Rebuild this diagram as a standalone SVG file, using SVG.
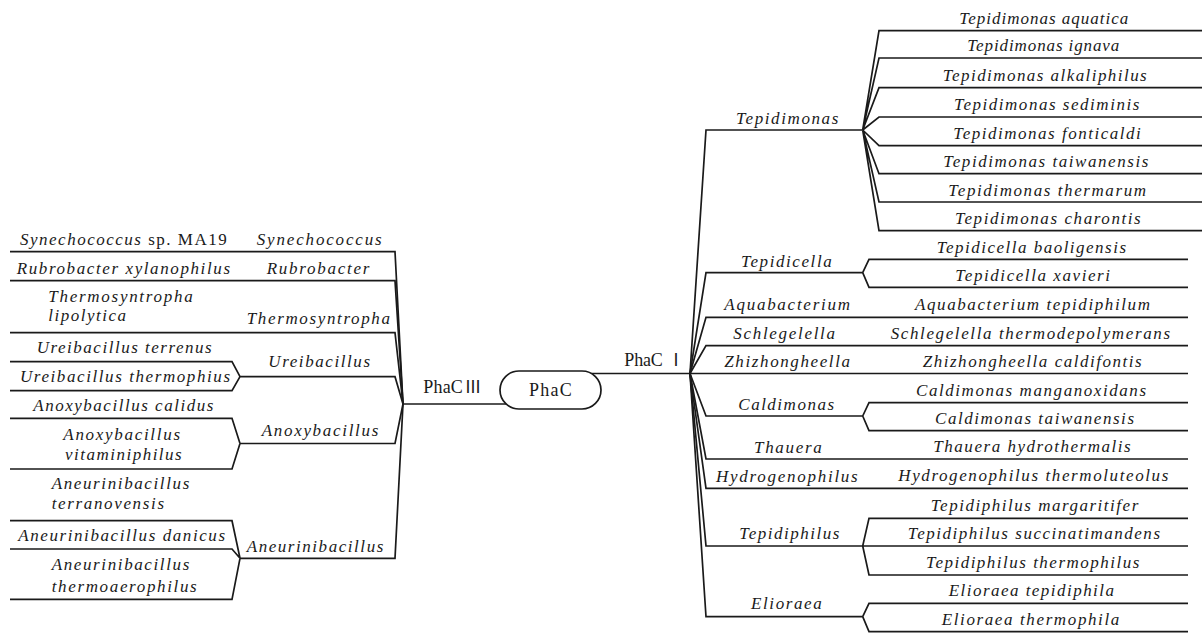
<svg xmlns="http://www.w3.org/2000/svg" width="1202" height="635" viewBox="0 0 1202 635">
<style>
.ln{fill:none;stroke:#1a1a1a;stroke-width:1.7;stroke-linejoin:miter;}
.t{font-family:"Liberation Serif","Times New Roman",serif;font-size:17px;font-style:italic;fill:#1a1a1a;}
.u{font-style:normal;}
.n{font-family:"Liberation Serif","Times New Roman",serif;font-size:18px;fill:#1a1a1a;}
.r{font-family:"Noto Sans CJK SC","Noto Sans CJK JP",sans-serif;font-size:17px;}
</style>
<rect width="1202" height="635" fill="#fff"/>
<g id="connectors" class="ln">
<path d="M403,404 H510"/>
<path d="M590,373.5 H690"/>
<path d="M10,251.7 H395 L403,404"/>
<path d="M10,280.7 H395 L403,404"/>
<path d="M10,332.7 H395 L403,404"/>
<path d="M10,361.7 H232 L240,376.7 M10,390.7 H232 L240,376.7 M240,376.7 H395 L403,404"/>
<path d="M10,418.3 H232 L240,443.5 M10,469 H232 L240,443.5 M240,443.5 H395 L403,404"/>
<path d="M10,520.7 H232 L240,558.3 M10,549 H232 L240,558.3 M10,599.3 H232 L240,558.3 M240,558.3 H395 L403,404"/>
<path d="M690,373.5 L706,130 H862.7"/>
<path d="M862.7,130 L879,30.7 H1202 M862.7,130 L879,58 H1202 M862.7,130 L879,87.7 H1202 M862.7,130 L879,117 H1202 M862.7,130 L879,145.7 H1202 M862.7,130 L879,173.7 H1202 M862.7,130 L879,202 H1202 M862.7,130 L879,230.7 H1202"/>
<path d="M690,373.5 L706,272.7 H862.7 L869,259.3 H1188 M862.7,272.7 L869,287.3 H1188"/>
<path d="M690,373.5 L706,317.3 H1188"/>
<path d="M690,373.5 L706,345.7 H1188"/>
<path d="M690,373.5 H1188"/>
<path d="M690,373.5 L706,416 H862.7 L869,402.7 H1188 M862.7,416 L869,430.7 H1188"/>
<path d="M690,373.5 L706,459 H1188"/>
<path d="M690,373.5 L706,488.3 H1188"/>
<path d="M690,373.5 L706,546 H1188 M862.7,546 L869,518.3 H1188 M862.7,546 L869,575 H1188"/>
<path d="M690,373.5 L706,616.7 H862.7 L869,603.3 H1188 M862.7,616.7 L869,631.7 H1188"/>
</g>
<g id="root">
<rect x="500" y="371" width="101" height="38" rx="19" ry="19" fill="#fff" stroke="#1a1a1a" stroke-width="1.7"/>
<text class="n" x="529" y="396" textLength="42.7" lengthAdjust="spacing">PhaC</text>
</g>
<g id="phac3"><text class="n" x="423.3" y="393"><tspan textLength="39.5" lengthAdjust="spacing">PhaC</tspan><tspan class="r" x="464.5">Ⅲ</tspan></text></g>
<g id="phac1"><text class="n" x="624.3" y="366"><tspan textLength="38.5" lengthAdjust="spacing">PhaC</tspan><tspan class="r" x="667.5">Ⅰ</tspan></text></g>
<g id="g-synechococcus"><text class="t" x="256.7" y="245" textLength="125" lengthAdjust="spacing">Synechococcus</text></g>
<g id="g-rubrobacter"><text class="t" x="266.7" y="274" textLength="102.6" lengthAdjust="spacing">Rubrobacter</text></g>
<g id="g-thermosyntropha"><text class="t" x="246.7" y="324" textLength="143.3" lengthAdjust="spacing">Thermosyntropha</text></g>
<g id="g-ureibacillus"><text class="t" x="268.3" y="367" textLength="101.7" lengthAdjust="spacing">Ureibacillus</text></g>
<g id="g-anoxybacillus"><text class="t" x="261.7" y="436" textLength="116.6" lengthAdjust="spacing">Anoxybacillus</text></g>
<g id="g-aneurinibacillus"><text class="t" x="246.7" y="551.5" textLength="136.6" lengthAdjust="spacing">Aneurinibacillus</text></g>
<g id="s-synechococcus"><text class="t" x="20" y="245" textLength="206.7" lengthAdjust="spacing">Synechococcus<tspan class="u"> sp. MA19</tspan></text></g>
<g id="s-rubrobacter"><text class="t" x="16.7" y="274" textLength="213.3" lengthAdjust="spacing">Rubrobacter xylanophilus</text></g>
<g id="s-thermosyntropha"><text class="t" x="48.3" y="302" textLength="144.4" lengthAdjust="spacing">Thermosyntropha</text><text class="t" x="48.3" y="321" textLength="77.7" lengthAdjust="spacing">lipolytica</text></g>
<g id="s-ureibacillus-t"><text class="t" x="36.7" y="353" textLength="175" lengthAdjust="spacing">Ureibacillus terrenus</text></g>
<g id="s-ureibacillus-th"><text class="t" x="20" y="382" textLength="210" lengthAdjust="spacing">Ureibacillus thermophius</text></g>
<g id="s-anoxybacillus-c"><text class="t" x="33.3" y="410.5" textLength="180" lengthAdjust="spacing">Anoxybacillus calidus</text></g>
<g id="s-anoxybacillus-v"><text class="t" x="63.3" y="439.5" textLength="116.7" lengthAdjust="spacing">Anoxybacillus</text><text class="t" x="65" y="460" textLength="116.7" lengthAdjust="spacing">vitaminiphilus</text></g>
<g id="s-aneurinibacillus-t"><text class="t" x="51.7" y="488.5" textLength="137.6" lengthAdjust="spacing">Aneurinibacillus</text><text class="t" x="51.7" y="508.5" textLength="112.3" lengthAdjust="spacing">terranovensis</text></g>
<g id="s-aneurinibacillus-d"><text class="t" x="18.3" y="540.5" textLength="206.7" lengthAdjust="spacing">Aneurinibacillus danicus</text></g>
<g id="s-aneurinibacillus-th"><text class="t" x="51.7" y="570" textLength="137.6" lengthAdjust="spacing">Aneurinibacillus</text><text class="t" x="51.7" y="591.5" textLength="145" lengthAdjust="spacing">thermoaerophilus</text></g>
<g id="g-tepidimonas"><text class="t" x="736" y="124" textLength="102.3" lengthAdjust="spacing">Tepidimonas</text></g>
<g id="g-tepidicella"><text class="t" x="741" y="266.5" textLength="90.7" lengthAdjust="spacing">Tepidicella</text></g>
<g id="g-aquabacterium"><text class="t" x="724.3" y="310" textLength="125.7" lengthAdjust="spacing">Aquabacterium</text></g>
<g id="g-schlegelella"><text class="t" x="733.3" y="338.5" textLength="101.7" lengthAdjust="spacing">Schlegelella</text></g>
<g id="g-zhizhongheella"><text class="t" x="724.3" y="366.5" textLength="125.7" lengthAdjust="spacing">Zhizhongheella</text></g>
<g id="g-caldimonas"><text class="t" x="738.3" y="409.5" textLength="95.7" lengthAdjust="spacing">Caldimonas</text></g>
<g id="g-thauera"><text class="t" x="754" y="452.5" textLength="67.7" lengthAdjust="spacing">Thauera</text></g>
<g id="g-hydrogenophilus"><text class="t" x="716" y="481.5" textLength="141.7" lengthAdjust="spacing">Hydrogenophilus</text></g>
<g id="g-tepidiphilus"><text class="t" x="739.3" y="538.5" textLength="100" lengthAdjust="spacing">Tepidiphilus</text></g>
<g id="g-elioraea"><text class="t" x="751" y="608.5" textLength="70.7" lengthAdjust="spacing">Elioraea</text></g>
<g id="s-tepidimonas">
<text class="t" x="959.3" y="24" textLength="169" lengthAdjust="spacing">Tepidimonas aquatica</text>
<text class="t" x="967.3" y="51" textLength="152" lengthAdjust="spacing">Tepidimonas ignava</text>
<text class="t" x="942.7" y="81" textLength="204" lengthAdjust="spacing">Tepidimonas alkaliphilus</text>
<text class="t" x="954" y="110" textLength="185.3" lengthAdjust="spacing">Tepidimonas sediminis</text>
<text class="t" x="953.3" y="139" textLength="187.4" lengthAdjust="spacing">Tepidimonas fonticaldi</text>
<text class="t" x="943.3" y="167" textLength="205" lengthAdjust="spacing">Tepidimonas taiwanensis</text>
<text class="t" x="948.3" y="195.5" textLength="197.7" lengthAdjust="spacing">Tepidimonas thermarum</text>
<text class="t" x="955" y="224" textLength="185.7" lengthAdjust="spacing">Tepidimonas charontis</text>
</g>
<g id="s-tepidicella">
<text class="t" x="936.7" y="252.5" textLength="189.3" lengthAdjust="spacing">Tepidicella baoligensis</text>
<text class="t" x="955.3" y="280.5" textLength="154.7" lengthAdjust="spacing">Tepidicella xavieri</text>
</g>
<g id="s-aquabacterium"><text class="t" x="915" y="310" textLength="235" lengthAdjust="spacing">Aquabacterium tepidiphilum</text></g>
<g id="s-schlegelella"><text class="t" x="890.7" y="338.5" textLength="279.3" lengthAdjust="spacing">Schlegelella thermodepolymerans</text></g>
<g id="s-zhizhongheella"><text class="t" x="922.7" y="366.5" textLength="219" lengthAdjust="spacing">Zhizhongheella caldifontis</text></g>
<g id="s-caldimonas">
<text class="t" x="916" y="395.5" textLength="230" lengthAdjust="spacing">Caldimonas manganoxidans</text>
<text class="t" x="935" y="423.5" textLength="199" lengthAdjust="spacing">Caldimonas taiwanensis</text>
</g>
<g id="s-thauera"><text class="t" x="933.3" y="452" textLength="197.4" lengthAdjust="spacing">Thauera hydrothermalis</text></g>
<g id="s-hydrogenophilus"><text class="t" x="898.3" y="481" textLength="270" lengthAdjust="spacing">Hydrogenophilus thermoluteolus</text></g>
<g id="s-tepidiphilus">
<text class="t" x="930.7" y="511" textLength="207.6" lengthAdjust="spacing">Tepidiphilus margaritifer</text>
<text class="t" x="907.7" y="539" textLength="252.3" lengthAdjust="spacing">Tepidiphilus succinatimandens</text>
<text class="t" x="926" y="568" textLength="213.3" lengthAdjust="spacing">Tepidiphilus thermophilus</text>
</g>
<g id="s-elioraea">
<text class="t" x="948.7" y="596" textLength="165.3" lengthAdjust="spacing">Elioraea tepidiphila</text>
<text class="t" x="941.7" y="624.5" textLength="177.6" lengthAdjust="spacing">Elioraea thermophila</text>
</g>
</svg>
